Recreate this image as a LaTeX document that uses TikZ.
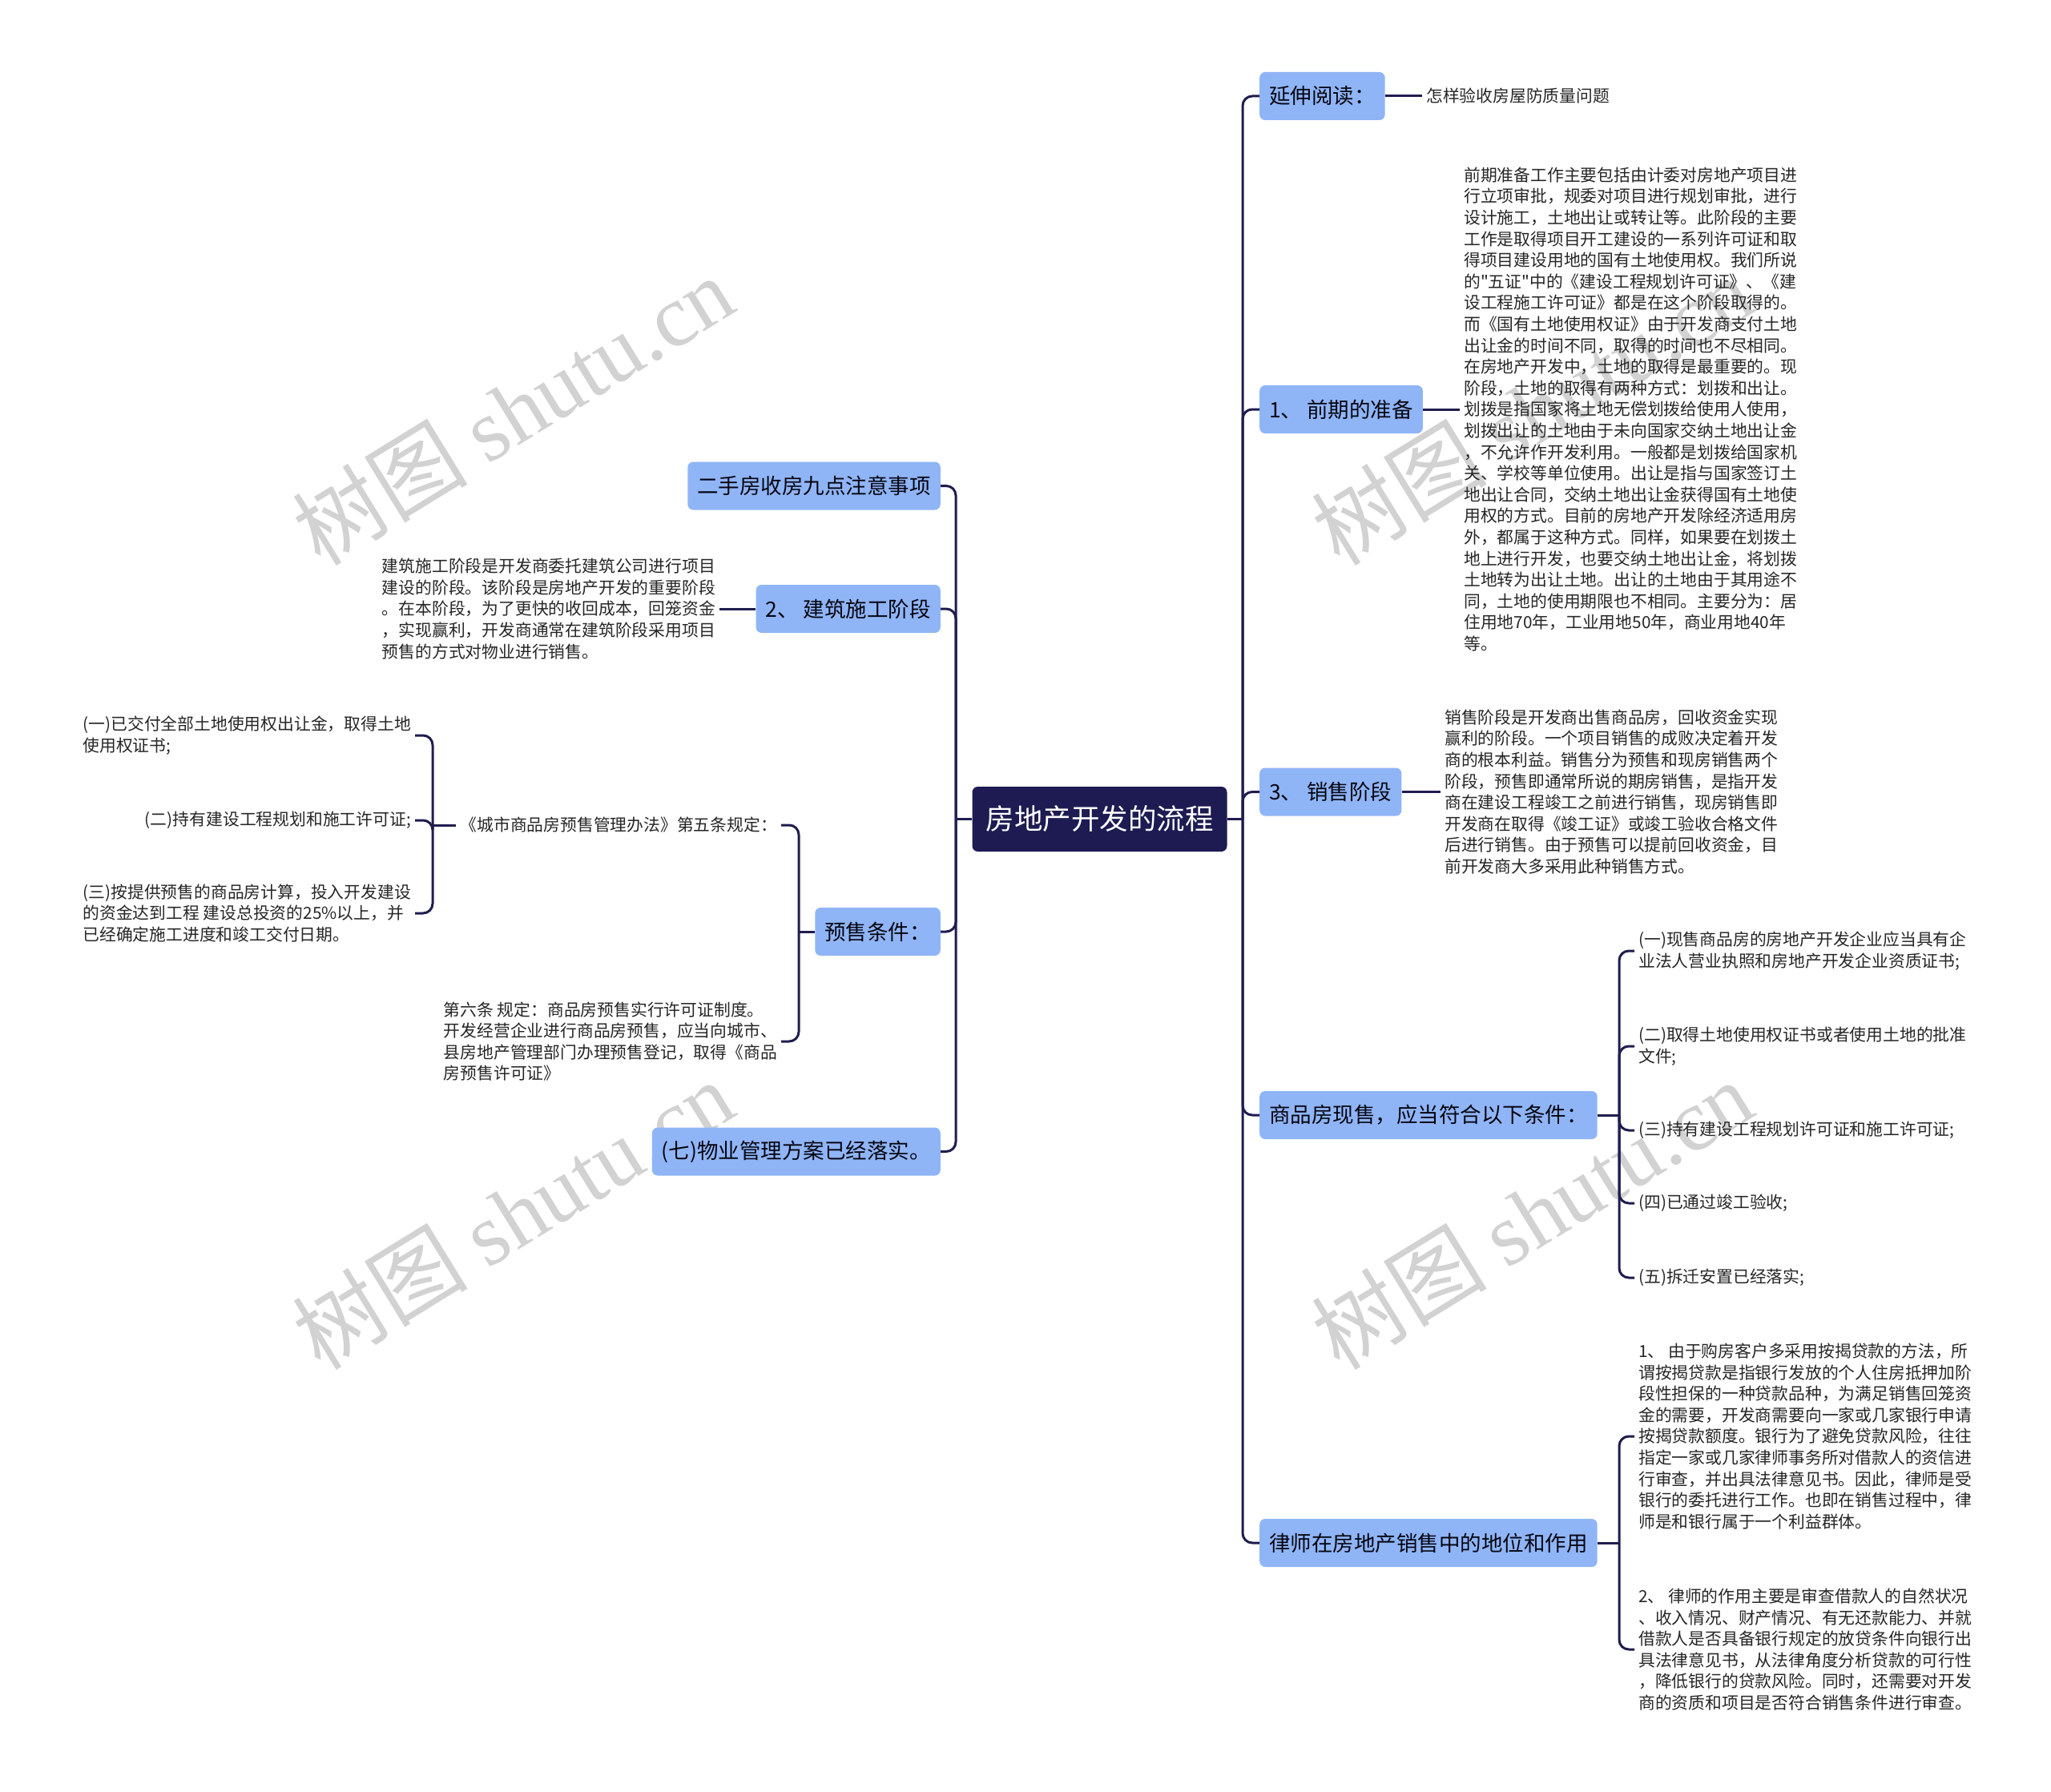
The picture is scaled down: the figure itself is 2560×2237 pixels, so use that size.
\documentclass[tikz,border=0pt]{standalone}
\usepackage{fontspec}
\setmainfont{Noto Sans CJK SC}[Ligatures=TeXOff]
\newfontfamily\wmfont{Liberation Serif}
\definecolor{navy}{HTML}{1D1B52}
\definecolor{topicblue}{HTML}{8FB5F7}
\definecolor{linkcol}{HTML}{1F1D4F}
\definecolor{wmgray}{HTML}{D2D2D2}
\begin{document}
\begin{tikzpicture}[x=1pt, y=-1pt,
    root/.style={fill=navy, text=white, rounded corners=7pt, minimum height=81pt, inner xsep=17pt, font=\fontsize{35.5}{40}\selectfont},
    topic/.style={fill=topicblue, text=black!80!navy, rounded corners=7pt, minimum height=60pt, inner xsep=12pt, font=\fontsize{26.5}{30}\selectfont},
    txt/.style={align=left, inner sep=5pt, text=black!85, font=\fontsize{20.8}{26.6}\selectfont},
    link/.style={draw=linkcol, line width=3pt, rounded corners=12pt},
    wm/.style={text=wmgray, rotate=31.6, inner sep=0pt, font=\fontsize{110}{120}\selectfont}]

    \useasboundingbox (0,0) rectangle (2560,2237);
    \fill[white] (0,0) rectangle (2560,2237);

    % watermarks
    \node[wm] (wm1) at (640,512) {树图 {\wmfont shutu.cn}};
    \node[wm] (wm2) at (1912,512) {树图 {\wmfont shutu.cn}};
    \node[wm] (wm3) at (640,1516) {树图 {\wmfont shutu.cn}};
    \node[wm] (wm4) at (1912,1516) {树图 {\wmfont shutu.cn}};

    \node[root] (root) at (1372.5,1022.5) {房地产开发的流程};
    \coordinate (lt) at (1193,1022.5);
    \coordinate (rt) at (1551,1022.5);

    % left side
    \node[topic, anchor=east] (ershou) at (1174,606.5) {二手房收房九点注意事项};
    \node[topic, anchor=east] (jianzhu) at (1174,760) {2、 建筑施工阶段};
    \node[topic, anchor=east] (yushou) at (1174,1163) {预售条件：};
    \node[topic, anchor=east] (wuye) at (1174,1437.5) {(七)物业管理方案已经落实。};

    \node[txt, anchor=east] (jianzhuT) at (898,760) {建筑施工阶段是开发商委托建筑公司进行项目\\建设的阶段。该阶段是房地产开发的重要阶段\\。在本阶段，为了更快的收回成本，回笼资金\\，实现赢利，开发商通常在建筑阶段采用项目\\预售的方式对物业进行销售。};

    \node[txt, anchor=east] (wutiao) at (975,1030) {《城市商品房预售管理办法》第五条规定：};
    \node[txt, anchor=east] (liutiao) at (975,1300) {第六条 规定：商品房预售实行许可证制度。\\开发经营企业进行商品房预售，应当向城市、\\县房地产管理部门办理预售登记，取得《商品\\房预售许可证》};
    \coordinate (by) at (997,1163);

    \node[txt, anchor=east] (tiao1) at (518,918) {(一)已交付全部土地使用权出让金，取得土地\\使用权证书;};
    \node[txt, anchor=east] (tiao2) at (518,1024) {(二)持有建设工程规划和施工许可证;};
    \node[txt, anchor=east] (tiao3) at (518,1140) {(三)按提供预售的商品房计算，投入开发建设\\的资金达到工程 建设总投资的25\%以上，并\\已经确定施工进度和竣工交付日期。};
    \coordinate (b5) at (540,1030);

    % right side
    \node[topic, anchor=west] (yanshen) at (1572,120) {延伸阅读：};
    \node[topic, anchor=west] (qianqi) at (1572,511) {1、 前期的准备};
    \node[topic, anchor=west] (xiaoshou) at (1572,988.5) {3、 销售阶段};
    \node[topic, anchor=west] (xianshou) at (1572,1392) {商品房现售，应当符合以下条件：};
    \node[topic, anchor=west] (lvshi) at (1572,1926) {律师在房地产销售中的地位和作用};

    \node[txt, anchor=west] (yanshenT) at (1775,120) {怎样验收房屋防质量问题};
    \node[txt, anchor=west] (qianqiT) at (1822,511) {前期准备工作主要包括由计委对房地产项目进\\行立项审批，规委对项目进行规划审批，进行\\设计施工，土地出让或转让等。此阶段的主要\\工作是取得项目开工建设的一系列许可证和取\\得项目建设用地的国有土地使用权。我们所说\\的"五证"中的《建设工程规划许可证》、《建\\设工程施工许可证》都是在这个阶段取得的。\\而《国有土地使用权证》由于开发商支付土地\\出让金的时间不同，取得的时间也不尽相同。\\在房地产开发中，土地的取得是最重要的。现\\阶段，土地的取得有两种方式：划拨和出让。\\划拨是指国家将土地无偿划拨给使用人使用，\\划拨出让的土地由于未向国家交纳土地出让金\\，不允许作开发利用。一般都是划拨给国家机\\关、学校等单位使用。出让是指与国家签订土\\地出让合同，交纳土地出让金获得国有土地使\\用权的方式。目前的房地产开发除经济适用房\\外，都属于这种方式。同样，如果要在划拨土\\地上进行开发，也要交纳土地出让金，将划拨\\土地转为出让土地。出让的土地由于其用途不\\同，土地的使用期限也不相同。主要分为：居\\住用地70年，工业用地50年，商业用地40年\\等。};
    \node[txt, anchor=west] (xiaoshouT) at (1798,988.5) {销售阶段是开发商出售商品房，回收资金实现\\赢利的阶段。一个项目销售的成败决定着开发\\商的根本利益。销售分为预售和现房销售两个\\阶段，预售即通常所说的期房销售，是指开发\\商在建设工程竣工之前进行销售，现房销售即\\开发商在取得《竣工证》或竣工验收合格文件\\后进行销售。由于预售可以提前回收资金，目\\前开发商大多采用此种销售方式。};

    \coordinate (bx) at (2021,1392);
    \node[txt, anchor=west] (xs1) at (2040,1187) {(一)现售商品房的房地产开发企业应当具有企\\业法人营业执照和房地产开发企业资质证书;};
    \node[txt, anchor=west] (xs2) at (2040,1306) {(二)取得土地使用权证书或者使用土地的批准\\文件;};
    \node[txt, anchor=west] (xs3) at (2040,1411) {(三)持有建设工程规划许可证和施工许可证;};
    \node[txt, anchor=west] (xs4) at (2040,1502) {(四)已通过竣工验收;};
    \node[txt, anchor=west] (xs5) at (2040,1595) {(五)拆迁安置已经落实;};

    \coordinate (bl) at (2021,1926);
    \node[txt, anchor=west] (ls1) at (2040,1793) {1、 由于购房客户多采用按揭贷款的方法，所\\谓按揭贷款是指银行发放的个人住房抵押加阶\\段性担保的一种贷款品种，为满足销售回笼资\\金的需要，开发商需要向一家或几家银行申请\\按揭贷款额度。银行为了避免贷款风险，往往\\指定一家或几家律师事务所对借款人的资信进\\行审查，并出具法律意见书。因此，律师是受\\银行的委托进行工作。也即在销售过程中，律\\师是和银行属于一个利益群体。};
    \node[txt, anchor=west] (ls2) at (2040,2059) {2、 律师的作用主要是审查借款人的自然状况\\、收入情况、财产情况、有无还款能力、并就\\借款人是否具备银行规定的放贷条件向银行出\\具法律意见书，从法律角度分析贷款的可行性\\，降低银行的贷款风险。同时，还需要对开发\\商的资质和项目是否符合销售条件进行审查。};

    % connectors
    \draw[link] (root.west) -- (lt);
    \draw[link] (root.east) -- (rt);
    \draw[link] (lt) |- (ershou.east);
    \draw[link] (lt) |- (jianzhu.east);
    \draw[link] (lt) |- (yushou.east);
    \draw[link] (lt) |- (wuye.east);
    \draw[link] (rt) |- (yanshen.west);
    \draw[link] (rt) |- (qianqi.west);
    \draw[link] (rt) |- (xiaoshou.west);
    \draw[link] (rt) |- (xianshou.west);
    \draw[link] (rt) |- (lvshi.west);

    \draw[link] (jianzhu.west) -- (jianzhuT.east);
    \draw[link] (yushou.west) -- (by);
    \draw[link] (by) |- (wutiao.east);
    \draw[link] (by) |- (liutiao.east);
    \draw[link] (wutiao.west) -- (b5);
    \draw[link] (b5) |- (tiao1.east);
    \draw[link] (b5) |- (tiao2.east);
    \draw[link] (b5) |- (tiao3.east);

    \draw[link] (yanshen.east) -- (yanshenT.west);
    \draw[link] (qianqi.east) -- (qianqiT.west);
    \draw[link] (xiaoshou.east) -- (xiaoshouT.west);
    \draw[link] (xianshou.east) -- (bx);
    \draw[link] (bx) |- (xs1.west);
    \draw[link] (bx) |- (xs2.west);
    \draw[link] (bx) |- (xs3.west);
    \draw[link] (bx) |- (xs4.west);
    \draw[link] (bx) |- (xs5.west);
    \draw[link] (lvshi.east) -- (bl);
    \draw[link] (bl) |- (ls1.west);
    \draw[link] (bl) |- (ls2.west);
\end{tikzpicture}
\end{document}
